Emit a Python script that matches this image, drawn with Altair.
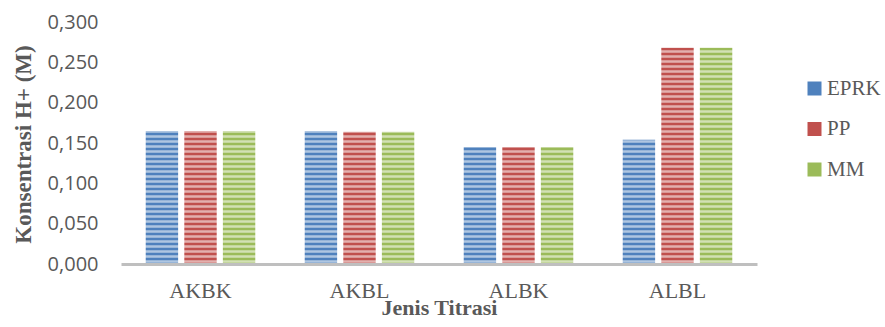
import altair as alt
import pandas as pd

categories = ["AKBK", "AKBL", "ALBK", "ALBL"]
series = ["EPRK", "PP", "MM"]
eprk = [0.165, 0.165, 0.145, 0.154]
pp = [0.165, 0.164, 0.145, 0.268]
mm = [0.165, 0.164, 0.145, 0.268]
y_ticks = [0.0, 0.05, 0.10, 0.15, 0.20, 0.25, 0.30]
colors = ["#4F81BD", "#C0504D", "#9BBB59"]

rows = []
for i, c in enumerate(categories):
    for s, vals in zip(series, [eprk, pp, mm]):
        rows.append({"Jenis": c, "Seri": s, "Nilai": vals[i]})
df = pd.DataFrame(rows)

W, H = 636, 242
yscale = alt.Scale(domain=[0, 0.3], nice=False)

bars = alt.Chart(df).mark_bar(opacity=1).encode(
    x=alt.X("Jenis:N", sort=categories,
            scale=alt.Scale(paddingInner=0.311, paddingOuter=0.1555),
            axis=alt.Axis(title="Jenis Titrasi", labelAngle=0, ticks=False,
                          domainColor="#BFBFBF", domainWidth=3, zindex=1,
                          labelFont="Liberation Serif", labelFontSize=22,
                          labelColor="#595959", labelPadding=16,
                          titleFont="Liberation Serif", titleFontSize=22,
                          titleFontWeight="bold", titleColor="#595959",
                          titleBaseline="alphabetic", titleY=50)),
    xOffset=alt.XOffset("Seri:N", sort=series,
                        scale=alt.Scale(paddingInner=0.16, paddingOuter=0)),
    y=alt.Y("Nilai:Q", scale=yscale,
            axis=alt.Axis(title="Konsentrasi H+ (M)", values=y_ticks,
                          domain=False, ticks=False, grid=False,
                          labelExpr="replace(format(datum.value, '.3f'), '.', ',')",
                          labelFont="Open Sans", labelFontSize=20,
                          labelColor="#595959", labelPadding=23,
                          titleFont="Liberation Serif", titleFontSize=23,
                          titleFontWeight="bold", titleColor="#595959",
                          titleBaseline="alphabetic", titleX=-91, titleY=122)),
    color=alt.Color("Seri:N", sort=series,
                    scale=alt.Scale(domain=series, range=colors),
                    legend=alt.Legend(title=None, orient="none",
                                      legendX=683, legendY=56,
                                      symbolType="square", symbolSize=196,
                                      symbolStrokeWidth=0, symbolOpacity=1,
                                      labelFont="Liberation Serif",
                                      labelFontSize=21, labelColor="#595959",
                                      labelOffset=2, rowPadding=18.5)),
)

stripes = alt.Chart(alt.sequence(0.003, 0.3, 0.0062, as_="s")).mark_rule(
    color="white", strokeWidth=2.5, opacity=0.55
).encode(
    y=alt.Y("s:Q", scale=yscale),
    x=alt.value(0),
    x2=alt.value(W),
)

chart = alt.layer(bars, stripes).properties(
    width=W, height=H,
    background="white",
    autosize=alt.AutoSizeParams(type="none"),
    padding={"left": 121, "top": 22, "right": 128, "bottom": 63},
).configure_view(stroke=None, strokeWidth=0)

chart.save("out.html", embed_options={"renderer": "svg", "actions": False})
